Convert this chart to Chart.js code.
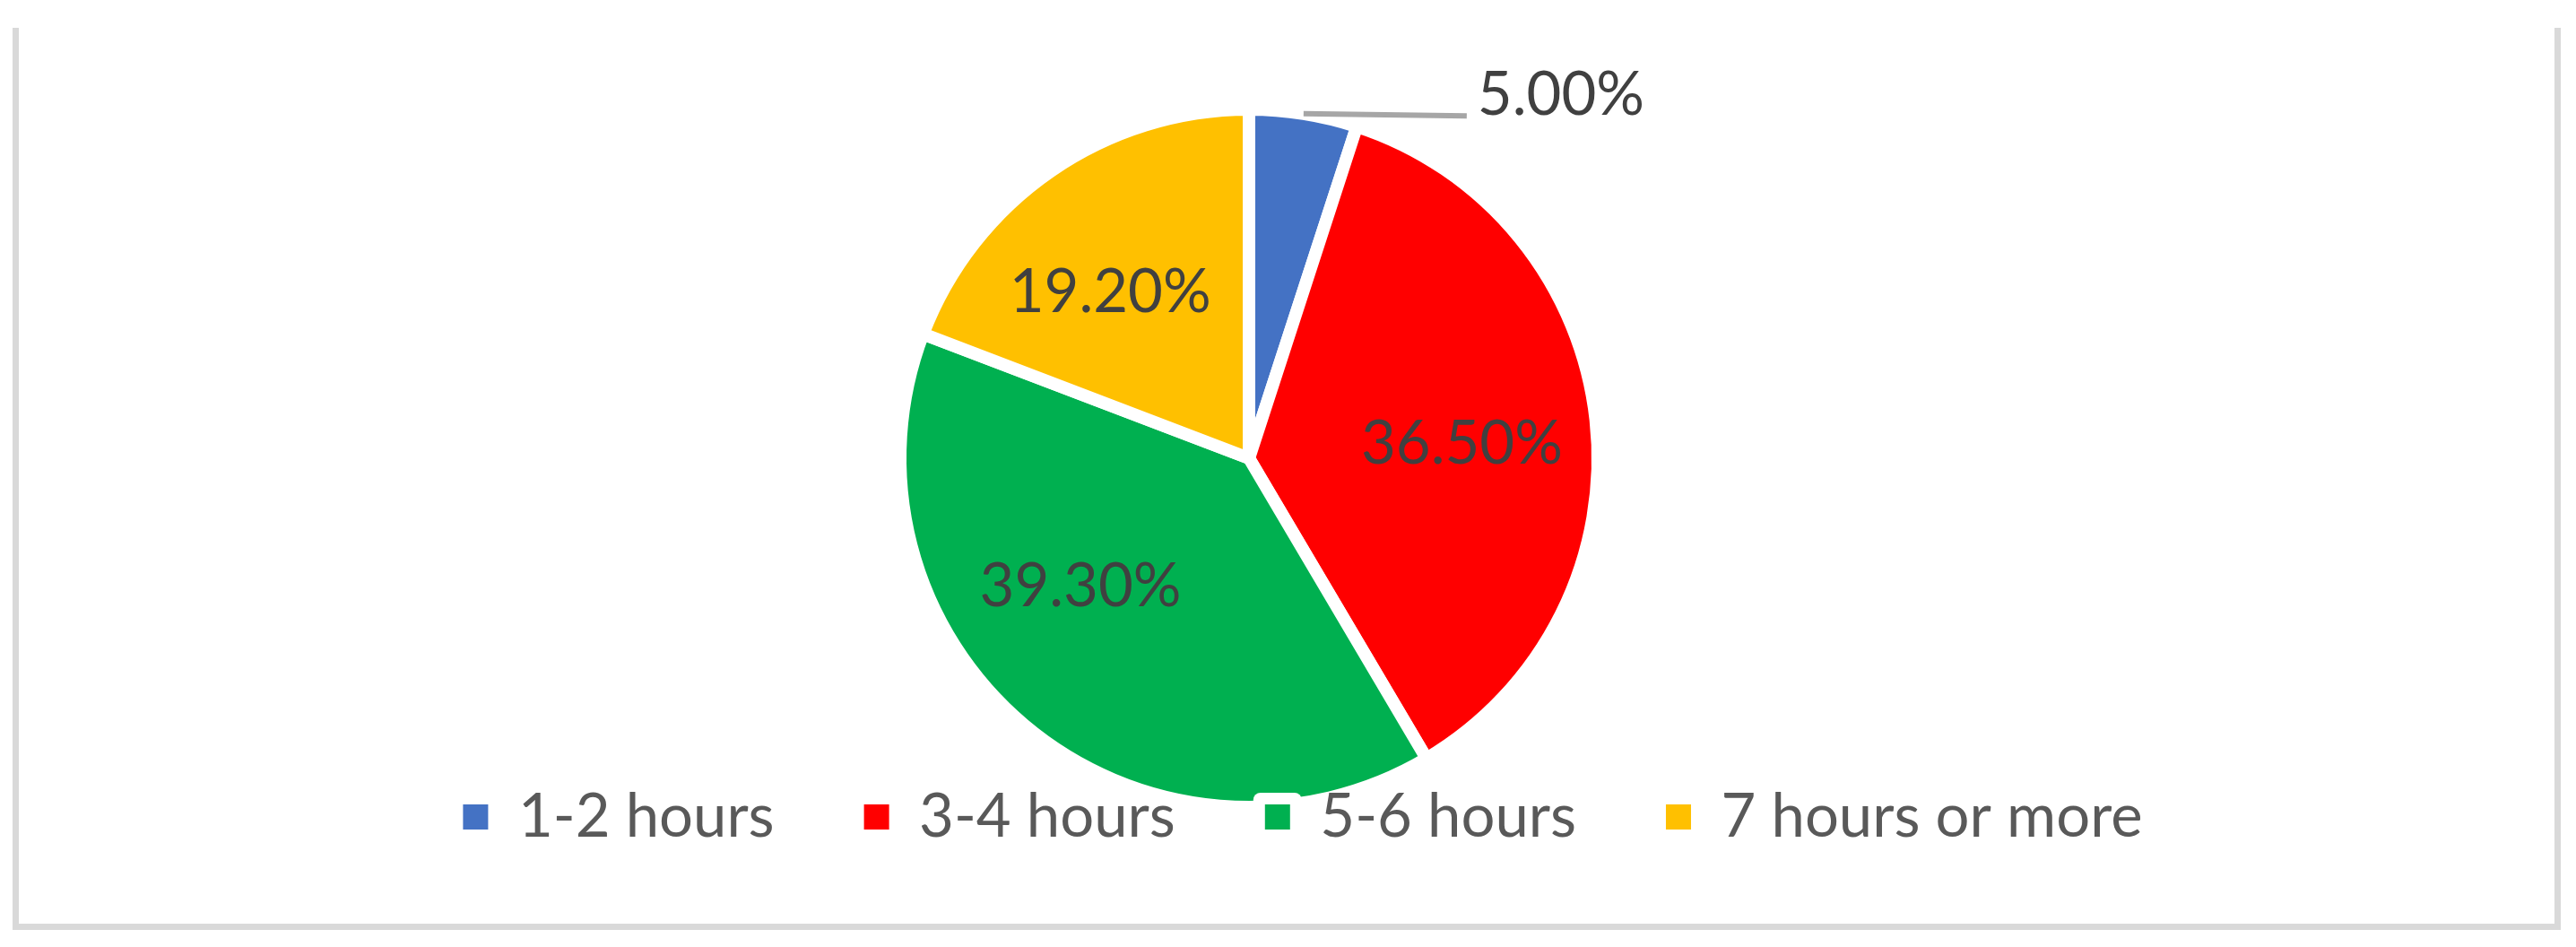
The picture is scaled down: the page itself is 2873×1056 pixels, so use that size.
<!DOCTYPE html>
<html>
<head>
<meta charset="utf-8">
<script src="https://cdn.jsdelivr.net/npm/chart.js@4.4.1/dist/chart.umd.min.js"></script>
<style>
  html, body { margin: 0; padding: 0; background: #ffffff; }
  #wrap { position: relative; width: 2873px; height: 1056px; overflow: hidden; }
  #frame {
    position: absolute; left: 14px; top: 31px; width: 2828px; height: 999px;
    border-left: 7px solid #d9d9d9; border-right: 7px solid #d9d9d9; border-bottom: 7px solid #d9d9d9;
    pointer-events: none;
  }
  canvas { position: absolute; left: 0; top: 0; }
</style>
</head>
<body>
<div id="wrap">
  <div id="frame"></div>
  <canvas id="chart" width="2873" height="1056" style="width:2873px;height:1056px"></canvas>
</div>
<script>
// ---- data ----
const categories = ['1-2 hours', '3-4 hours', '5-6 hours', '7 hours or more'];
const percentages = [5.0, 36.5, 39.3, 19.2];
const sliceColors = ['#4472C4', '#FF0000', '#00B050', '#FFC000'];
const valueLabels = percentages.map(v => v.toFixed(2) + '%');

// ---- style / layout settings ----
const FONT_FAMILY = 'Lato';
const LABEL_SIZE = 67;
const PIE_RADIUS = 389;
const LEGEND_SHIFT = 60;
const labelPlacement = [
  { outside: true, lineDx: 182, lineDy: 2.5, gap: 12, baseDy: -1.5 },
  { radius: 0.612, turn: 2 },
  { radius: 0.604, turn: 13 },
  { radius: 0.625, turn: -5 }
];

const legendTweaks = {
  id: 'legendTweaks',
  afterInit(chart) {
    const lg = chart.legend;
    lg._layers = function () {
      return [{ z: 1, draw: (area) => lg.draw(area) }];
    };
  },
  afterLayout(chart) {
    chart.legend.left += LEGEND_SHIFT;
    chart.legend.right += LEGEND_SHIFT;
  },
  afterDatasetsDraw(chart) {
    const lg = chart.legend;
    const lab = lg.options.labels;
    const ctx = chart.ctx;
    const halo = 13;
    ctx.save();
    ctx.fillStyle = '#ffffff';
    (lg.legendHitBoxes || []).forEach(hb => {
      const top = hb.top + Math.max((LABEL_SIZE - lab.boxHeight) / 2, 0);
      ctx.beginPath();
      ctx.roundRect(hb.left - halo, top - halo, lab.boxWidth + 2 * halo, lab.boxHeight + 2 * halo, 8);
      ctx.fill();
    });
    ctx.restore();
  }
};

const sliceLabels = {
  id: 'sliceLabels',
  afterDatasetsDraw(chart) {
    const ctx = chart.ctx;
    const meta = chart.getDatasetMeta(0);
    ctx.save();
    ctx.font = LABEL_SIZE + 'px ' + FONT_FAMILY;
    ctx.fillStyle = '#404040';
    meta.data.forEach((arc, i) => {
      const p = arc.getProps(['x', 'y', 'startAngle', 'endAngle', 'outerRadius'], true);
      const place = labelPlacement[i];
      const mid = (p.startAngle + p.endAngle) / 2;
      const text = valueLabels[i];
      if (place.outside) {
        const sx = p.x + Math.cos(mid) * p.outerRadius;
        const sy = p.y + Math.sin(mid) * p.outerRadius;
        const ex = sx + place.lineDx, ey = sy + place.lineDy;
        ctx.strokeStyle = '#A6A6A6';
        ctx.lineWidth = 6;
        ctx.beginPath();
        ctx.moveTo(sx, sy);
        ctx.lineTo(ex, ey);
        ctx.stroke();
        ctx.textAlign = 'left';
        ctx.textBaseline = 'alphabetic';
        ctx.fillText(text, ex + place.gap, ey + place.baseDy);
      } else {
        const a = mid + place.turn * Math.PI / 180;
        const r = p.outerRadius * place.radius;
        ctx.textAlign = 'center';
        ctx.textBaseline = 'alphabetic';
        ctx.fillText(text, p.x + Math.cos(a) * r, p.y + Math.sin(a) * r + 0.358 * LABEL_SIZE);
      }
    });
    ctx.restore();
  }
};

function build() {
  new Chart(document.getElementById('chart').getContext('2d'), {
    type: 'pie',
    data: {
      labels: categories,
      datasets: [{
        data: percentages,
        backgroundColor: sliceColors,
        borderColor: '#ffffff',
        borderWidth: 14,
        radius: PIE_RADIUS,
        clip: false
      }]
    },
    options: {
      responsive: false,
      animation: false,
      events: [],
      layout: { padding: { left: 300, right: 387, top: 244.5, bottom: 101.5 } },
      plugins: {
        tooltip: { enabled: false },
        legend: {
          position: 'bottom',
          labels: {
            font: { family: FONT_FAMILY, size: LABEL_SIZE },
            color: '#595959',
            boxWidth: 28,
            boxHeight: 28,
            padding: 100,
            generateLabels: () => categories.map((c, i) => ({
              text: c,
              fillStyle: sliceColors[i],
              strokeStyle: 'rgba(0,0,0,0)',
              lineWidth: 0,
              hidden: false,
              index: i,
              fontColor: '#595959'
            }))
          }
        }
      }
    },
    plugins: [legendTweaks, sliceLabels]
  });
}
if (document.fonts && document.fonts.load) {
  document.fonts.load(LABEL_SIZE + 'px ' + FONT_FAMILY).then(build, build);
} else { build(); }
</script>
</body>
</html>
